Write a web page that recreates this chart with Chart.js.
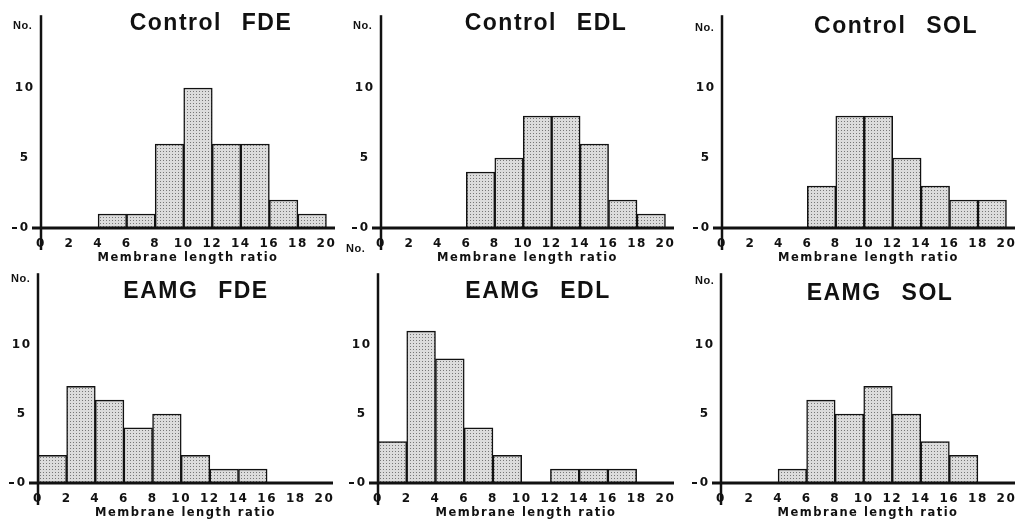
<!DOCTYPE html>
<html>
<head>
<meta charset="utf-8">
<script src="https://cdn.jsdelivr.net/npm/chart.js@4.4.1/dist/chart.umd.min.js"></script>
<style>
  body {
    margin: 0;
    width: 1025px;
    height: 525px;
    overflow: hidden;
    position: relative;
    background: #fff;
    font-family: "Liberation Sans", Arial, sans-serif;
    color: #111;
  }
  canvas { position: absolute; }
  .title {
    position: absolute;
    font-weight: bold;
    font-size: 23px;
    letter-spacing: 1.5px;
    word-spacing: 12px;
    white-space: nowrap;
    transform: translate(-50%, -50%);
  }
  .no {
    position: absolute;
    font-weight: bold;
    font-size: 11px;
    letter-spacing: 0.5px;
    transform: translateY(-50%);
  }
</style>
</head>
<body>
<script>
    // bins are 2 units wide, bars sit on the bin centres
    const binCenters = [1, 3, 5, 7, 9, 11, 13, 15, 17, 19];
    const xTicks = [0, 2, 4, 6, 8, 10, 12, 14, 16, 18, 20];
    const yTicks = [0, 5, 10];

    // counts per bin
    const controlFDE = [0, 0, 1, 1, 6, 10, 6, 6, 2, 1];
    const controlEDL = [0, 0, 0, 4, 5, 8, 8, 6, 2, 1];
    const controlSOL = [0, 0, 0, 3, 8, 8, 5, 3, 2, 2];
    const eamgFDE = [2, 7, 6, 4, 5, 2, 1, 1, 0, 0];
    const eamgEDL = [3, 11, 9, 4, 2, 0, 1, 1, 1, 0];
    const eamgSOL = [0, 0, 1, 6, 5, 7, 5, 3, 2, 0];

    const xTitle = "Membrane length ratio";

    // where each panel goes on the page (canvas box, padding round the plot, label spots)
    const panels = [
        { title: "Control FDE", counts: controlFDE, box: [0, 0, 340, 268], pad: { left: 11, right: 5, top: 13, bottom: 3 }, titleAt: [211, 22], noAt: [13, 25] },
        { title: "Control EDL", counts: controlEDL, box: [340, 0, 341, 268], pad: { left: 11, right: 7, top: 13, bottom: 3 }, titleAt: [546, 22], noAt: [353, 25] },
        { title: "Control SOL", counts: controlSOL, box: [681, 0, 344, 268], pad: { left: 11, right: 10, top: 14, bottom: 3 }, titleAt: [896, 25], noAt: [695, 27] },
        { title: "EAMG FDE", counts: eamgFDE, box: [0, 258, 340, 267], pad: { left: 8, right: 7, top: 9, bottom: 5 }, titleAt: [196, 290], noAt: [11, 278] },
        { title: "EAMG EDL", counts: eamgEDL, box: [340, 258, 341, 267], pad: { left: 8, right: 7, top: 10, bottom: 5 }, titleAt: [538, 290], noAt: [346, 248] },
        { title: "EAMG SOL", counts: eamgSOL, box: [681, 258, 344, 267], pad: { left: 10, right: 10, top: 10, bottom: 5 }, titleAt: [880, 292], noAt: [695, 280] }
    ];

    const tickFont = { family: "'DejaVu Sans', sans-serif", size: 12, weight: "bold" };
    const titleFont = { family: "'DejaVu Sans', sans-serif", size: 11.5, weight: "bold" };

    // stippled grey fill like the printed figure
    function makeStipple() {
        const tile = document.createElement("canvas");
        tile.width = 3;
        tile.height = 3;
        const t = tile.getContext("2d");
        t.fillStyle = "#dcdcdc";
        t.fillRect(0, 0, 3, 3);
        t.fillStyle = "#777";
        t.fillRect(1, 1, 1, 1);
        return t.createPattern(tile, "repeat");
    }

    // thick hand-drawn style axes
    const axisLines = {
        id: "axisLines",
        beforeDraw(chart) {
            chart.ctx.letterSpacing = "1.5px";
        },
        afterDatasetsDraw(chart) {
            const { ctx, chartArea, scales: { x, y } } = chart;
            const x0 = x.getPixelForValue(0);
            const y0 = y.getPixelForValue(0);
            ctx.save();
            ctx.strokeStyle = "#111";

            // vertical axis runs a bit below the baseline
            ctx.lineWidth = 2.5;
            ctx.beginPath();
            ctx.moveTo(x0, chartArea.top);
            ctx.lineTo(x0, y0 + 22);
            ctx.stroke();

            // horizontal axis
            ctx.lineWidth = 3;
            ctx.beginPath();
            ctx.moveTo(x0 - 9, y0);
            ctx.lineTo(chartArea.right, y0);
            ctx.stroke();

            // the little dash in front of the zero label
            ctx.lineWidth = 2;
            ctx.beginPath();
            ctx.moveTo(x0 - 29, y0);
            ctx.lineTo(x0 - 24, y0);
            ctx.stroke();
            ctx.restore();
        }
    };

    function addLabel(cls, text, at) {
        const div = document.createElement("div");
        div.className = cls;
        div.textContent = text;
        div.style.left = at[0] + "px";
        div.style.top = at[1] + "px";
        document.body.appendChild(div);
    }

    panels.forEach(p => {
        const canvas = document.createElement("canvas");
        canvas.width = p.box[2];
        canvas.height = p.box[3];
        canvas.style.left = p.box[0] + "px";
        canvas.style.top = p.box[1] + "px";
        document.body.appendChild(canvas);

        const ctx = canvas.getContext("2d");

        new Chart(ctx, {
            type: "bar",
            data: {
                datasets: [{
                    data: binCenters.map((c, i) => ({ x: c, y: p.counts[i] })),
                    backgroundColor: makeStipple(),
                    borderColor: "#111",
                    borderWidth: 1.5,
                    barPercentage: 1,
                    categoryPercentage: 1
                }]
            },
            options: {
                responsive: false,
                animation: false,
                devicePixelRatio: 1,
                layout: { padding: p.pad },
                plugins: {
                    legend: { display: false },
                    tooltip: { enabled: false }
                },
                scales: {
                    x: {
                        type: "linear",
                        min: 0,
                        max: 20.6,
                        offset: false,
                        // tick marks are hidden, tickLength just pushes the labels down
                        grid: { display: false, offset: false, drawTicks: true, tickLength: 9 },
                        border: { display: false },
                        afterBuildTicks: s => { s.ticks = xTicks.map(v => ({ value: v })); },
                        afterFit: s => { s.height = 37; s.paddingLeft = 0; s.paddingRight = 0; },
                        ticks: {
                            autoSkip: false,
                            maxRotation: 0,
                            padding: 0,
                            color: "#111",
                            font: tickFont
                        },
                        title: {
                            display: true,
                            text: xTitle,
                            color: "#111",
                            padding: 0,
                            font: titleFont
                        }
                    },
                    y: {
                        min: 0,
                        max: 15.2,
                        grid: { display: false, drawTicks: false },
                        border: { display: false },
                        afterBuildTicks: s => { s.ticks = yTicks.map(v => ({ value: v })); },
                        afterFit: s => { s.width = 30; },
                        ticks: {
                            padding: 8,
                            crossAlign: "center",
                            color: "#111",
                            font: tickFont
                        }
                    }
                }
            },
            plugins: [axisLines]
        });

        addLabel("title", p.title, p.titleAt);
        addLabel("no", "No.", p.noAt);
    });
</script>
</body>
</html>
